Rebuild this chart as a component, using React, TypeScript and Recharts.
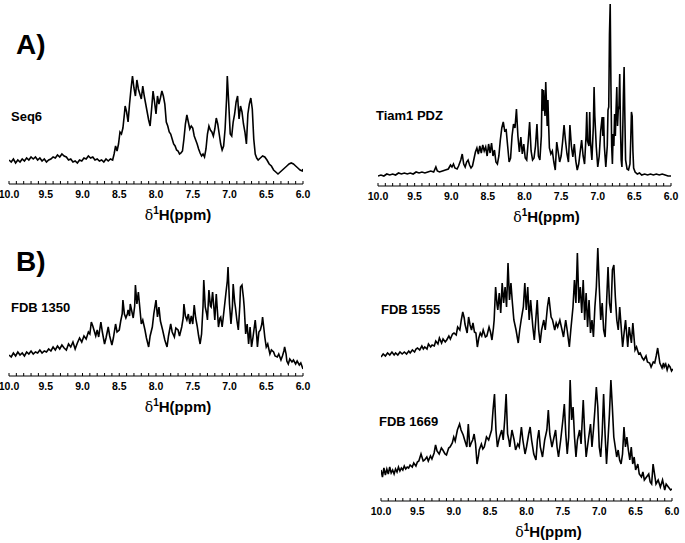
import React from 'react';
import { LineChart, Line, XAxis, YAxis, Label } from 'recharts';

const majorTicks = [10.0, 9.5, 9.0, 8.5, 8.0, 7.5, 7.0, 6.5, 6.0];
const minorTicks = [10.0, 9.9, 9.8, 9.7, 9.6, 9.5, 9.4, 9.3, 9.2, 9.1, 9.0, 8.9, 8.8, 8.7, 8.6, 8.5, 8.4, 8.3, 8.2, 8.1, 8.0, 7.9, 7.8, 7.7, 7.6, 7.5, 7.4, 7.3, 7.2, 7.1, 7.0, 6.9, 6.8, 6.7, 6.6, 6.5, 6.4, 6.3, 6.2, 6.1, 6.0];

const seq6: [number, number][] = [[10.0,24],[9.97,22],[9.94,25],[9.91,21],[9.88,24],[9.85,22],[9.82,25],[9.79,23],[9.76,26],[9.73,24],[9.70,27],[9.67,25],[9.64,27],[9.61,24],[9.58,26],[9.55,23],[9.52,25],[9.49,22],[9.46,24],[9.43,25],[9.40,27],[9.37,26],[9.34,29],[9.31,27],[9.28,30],[9.25,28],[9.22,27],[9.19,24],[9.16,25],[9.13,22],[9.10,23],[9.07,21],[9.04,24],[9.01,23],[8.98,26],[8.95,25],[8.92,28],[8.89,26],[8.86,27],[8.83,24],[8.80,25],[8.77,23],[8.74,24],[8.71,22],[8.68,25],[8.65,23],[8.62,25],[8.59,24],[8.57,30],[8.55,38],[8.53,33],[8.51,40],[8.49,52],[8.47,50],[8.45,56],[8.43,70],[8.42,78],[8.40,72],[8.38,62],[8.36,80],[8.34,95],[8.32,108],[8.30,96],[8.28,88],[8.26,104],[8.24,95],[8.22,90],[8.20,85],[8.18,98],[8.16,88],[8.14,80],[8.12,72],[8.10,64],[8.08,58],[8.06,75],[8.04,93],[8.02,82],[8.00,70],[7.98,88],[7.96,80],[7.94,86],[7.92,93],[7.90,88],[7.88,80],[7.86,62],[7.84,58],[7.82,52],[7.80,50],[7.78,45],[7.76,40],[7.74,38],[7.72,34],[7.70,33],[7.68,30],[7.66,31],[7.64,33],[7.62,45],[7.60,60],[7.58,69],[7.56,62],[7.54,55],[7.52,58],[7.50,56],[7.48,48],[7.46,44],[7.44,40],[7.42,35],[7.40,31],[7.38,28],[7.36,30],[7.34,27],[7.32,35],[7.30,50],[7.28,58],[7.26,54],[7.24,52],[7.22,48],[7.20,55],[7.18,66],[7.16,60],[7.14,50],[7.12,40],[7.10,34],[7.08,38],[7.06,55],[7.04,85],[7.03,108],[7.01,80],[6.99,50],[6.97,48],[6.95,62],[6.93,70],[6.91,82],[6.89,88],[6.87,65],[6.85,78],[6.83,72],[6.81,60],[6.79,52],[6.77,40],[6.75,70],[6.73,80],[6.71,86],[6.69,75],[6.67,45],[6.65,30],[6.63,26],[6.61,24],[6.58,26],[6.55,28],[6.52,27],[6.49,24],[6.46,20],[6.43,18],[6.40,14],[6.37,12],[6.34,10],[6.31,12],[6.28,14],[6.25,16],[6.22,18],[6.19,20],[6.16,21],[6.13,20],[6.10,18],[6.07,16],[6.04,14],[6.01,13],[6.0,15]];

const tiam1: [number, number][] = [[10.0,10],[9.96,11],[9.92,10],[9.88,12],[9.84,11],[9.80,12],[9.76,11],[9.72,13],[9.68,12],[9.64,13],[9.60,12],[9.56,13],[9.52,12],[9.48,14],[9.44,13],[9.40,14],[9.36,13],[9.32,14],[9.28,15],[9.24,14],[9.21,19],[9.19,15],[9.16,14],[9.12,15],[9.08,16],[9.04,17],[9.01,21],[8.99,19],[8.97,22],[8.95,18],[8.92,17],[8.90,20],[8.87,26],[8.85,32],[8.83,22],[8.81,19],[8.79,24],[8.77,26],[8.75,21],[8.73,18],[8.71,20],[8.69,27],[8.67,34],[8.65,38],[8.63,32],[8.61,40],[8.59,33],[8.57,41],[8.55,35],[8.53,39],[8.51,30],[8.49,42],[8.47,33],[8.45,43],[8.43,30],[8.41,36],[8.39,24],[8.37,22],[8.35,30],[8.33,46],[8.31,58],[8.29,64],[8.27,55],[8.25,56],[8.23,40],[8.21,24],[8.19,28],[8.17,50],[8.15,62],[8.13,58],[8.11,77],[8.09,50],[8.07,34],[8.05,49],[8.03,32],[8.01,42],[7.99,28],[7.97,26],[7.95,44],[7.93,64],[7.91,35],[7.89,26],[7.87,28],[7.85,40],[7.83,62],[7.81,30],[7.79,26],[7.77,50],[7.76,97],[7.75,75],[7.74,96],[7.73,80],[7.72,70],[7.71,104],[7.70,82],[7.69,60],[7.68,86],[7.67,60],[7.66,38],[7.64,32],[7.62,35],[7.60,24],[7.58,16],[7.56,44],[7.54,34],[7.52,24],[7.50,30],[7.48,44],[7.46,61],[7.44,45],[7.42,32],[7.40,24],[7.38,61],[7.36,40],[7.34,29],[7.32,42],[7.30,25],[7.28,16],[7.26,22],[7.24,34],[7.22,46],[7.20,30],[7.18,22],[7.16,50],[7.15,74],[7.14,45],[7.12,40],[7.11,74],[7.10,45],[7.08,26],[7.06,60],[7.05,99],[7.04,70],[7.02,39],[7.00,19],[6.98,30],[6.96,55],[6.94,69],[6.93,50],[6.92,69],[6.91,40],[6.89,19],[6.87,40],[6.86,76],[6.85,79],[6.84,152],[6.83,182],[6.82,100],[6.81,40],[6.80,22],[6.79,52],[6.78,40],[6.77,72],[6.76,50],[6.75,76],[6.74,99],[6.73,60],[6.72,76],[6.71,80],[6.70,112],[6.69,60],[6.68,26],[6.67,19],[6.66,50],[6.65,90],[6.64,119],[6.63,70],[6.62,26],[6.60,17],[6.58,16],[6.56,22],[6.55,45],[6.54,74],[6.53,70],[6.52,35],[6.51,18],[6.49,14],[6.46,12],[6.43,13],[6.40,11],[6.36,12],[6.32,11],[6.28,12],[6.24,11],[6.20,12],[6.16,11],[6.12,12],[6.08,11],[6.04,10],[6.0,10]];

const fdb1350: [number, number][] = [[10.0,21],[9.97,19],[9.94,23],[9.91,20],[9.88,24],[9.85,21],[9.82,23],[9.79,20],[9.76,24],[9.73,22],[9.70,25],[9.67,22],[9.64,24],[9.61,23],[9.58,26],[9.55,23],[9.52,25],[9.49,24],[9.46,27],[9.43,25],[9.40,29],[9.37,26],[9.34,30],[9.31,27],[9.28,31],[9.25,28],[9.22,26],[9.19,32],[9.16,29],[9.13,34],[9.10,27],[9.07,33],[9.04,38],[9.01,34],[8.98,40],[8.95,37],[8.92,44],[8.90,42],[8.88,54],[8.86,50],[8.84,45],[8.82,40],[8.80,46],[8.78,39],[8.75,54],[8.73,44],[8.70,32],[8.68,38],[8.65,49],[8.63,40],[8.60,31],[8.58,38],[8.55,52],[8.53,44],[8.50,46],[8.48,55],[8.46,62],[8.45,76],[8.43,62],[8.41,58],[8.39,62],[8.38,66],[8.36,60],[8.35,72],[8.33,65],[8.31,58],[8.29,70],[8.28,91],[8.26,72],[8.24,84],[8.22,68],[8.20,52],[8.18,56],[8.15,46],[8.13,38],[8.10,29],[8.08,40],[8.05,49],[8.03,62],[8.00,76],[7.98,59],[7.96,69],[7.94,55],[7.91,46],[7.88,36],[7.85,29],[7.83,40],[7.80,52],[7.78,44],[7.75,39],[7.73,48],[7.70,46],[7.68,40],[7.65,49],[7.63,58],[7.62,72],[7.60,60],[7.58,56],[7.56,62],[7.54,52],[7.52,60],[7.50,52],[7.48,71],[7.46,58],[7.44,50],[7.42,40],[7.40,32],[7.38,42],[7.36,70],[7.35,96],[7.33,69],[7.31,62],[7.30,56],[7.28,86],[7.26,70],[7.25,69],[7.23,84],[7.21,66],[7.20,56],[7.18,82],[7.16,60],[7.15,49],[7.13,58],[7.12,59],[7.10,49],[7.08,62],[7.05,82],[7.03,95],[7.02,109],[7.00,72],[6.98,52],[6.96,70],[6.95,92],[6.93,74],[6.92,69],[6.90,56],[6.88,46],[6.86,70],[6.85,89],[6.83,91],[6.81,78],[6.80,69],[6.78,42],[6.76,52],[6.74,32],[6.72,49],[6.70,29],[6.68,39],[6.65,56],[6.63,40],[6.62,29],[6.60,44],[6.58,46],[6.56,52],[6.55,59],[6.53,46],[6.52,39],[6.50,29],[6.48,32],[6.45,22],[6.43,26],[6.40,24],[6.38,20],[6.35,19],[6.33,22],[6.30,16],[6.28,20],[6.26,25],[6.25,29],[6.23,22],[6.22,15],[6.20,12],[6.18,17],[6.15,14],[6.13,16],[6.10,12],[6.08,15],[6.05,11],[6.03,13],[6.00,7]];

const fdb1555: [number, number][] = [[10.0,23],[9.97,26],[9.94,24],[9.91,27],[9.88,25],[9.85,28],[9.82,25],[9.80,27],[9.77,25],[9.74,28],[9.71,26],[9.68,28],[9.65,26],[9.62,29],[9.60,27],[9.57,30],[9.54,28],[9.52,31],[9.50,32],[9.47,30],[9.44,34],[9.42,31],[9.40,33],[9.37,31],[9.35,36],[9.32,33],[9.30,35],[9.27,34],[9.25,39],[9.22,36],[9.20,42],[9.17,37],[9.15,41],[9.12,38],[9.10,40],[9.07,44],[9.05,41],[9.02,46],[9.00,47],[8.97,45],[8.95,53],[8.92,50],[8.90,60],[8.88,68],[8.86,62],[8.85,56],[8.82,47],[8.80,63],[8.78,55],[8.76,50],[8.74,57],[8.72,48],[8.70,47],[8.68,33],[8.66,42],[8.64,47],[8.62,44],[8.60,50],[8.57,43],[8.55,44],[8.52,53],[8.50,48],[8.48,40],[8.46,52],[8.45,60],[8.43,93],[8.41,75],[8.40,70],[8.38,87],[8.36,67],[8.34,97],[8.32,77],[8.30,93],[8.28,73],[8.26,117],[8.24,80],[8.22,97],[8.20,77],[8.18,60],[8.15,50],[8.12,37],[8.10,50],[8.08,60],[8.05,73],[8.03,97],[8.01,70],[7.99,93],[7.97,60],[7.95,80],[7.92,53],[7.90,40],[7.88,60],[7.86,80],[7.84,50],[7.82,37],[7.80,50],[7.77,60],[7.75,50],[7.72,73],[7.70,83],[7.67,63],[7.65,60],[7.62,50],[7.60,57],[7.58,53],[7.55,60],[7.52,50],[7.50,43],[7.47,60],[7.45,50],[7.42,33],[7.40,50],[7.37,73],[7.35,100],[7.33,77],[7.31,127],[7.29,77],[7.27,93],[7.25,67],[7.23,100],[7.21,60],[7.19,87],[7.17,53],[7.15,80],[7.13,47],[7.11,60],[7.09,43],[7.07,73],[7.05,93],[7.03,132],[7.01,93],[6.99,60],[6.97,77],[6.95,50],[6.93,43],[6.91,77],[6.89,113],[6.87,77],[6.85,67],[6.83,110],[6.81,115],[6.79,83],[6.77,60],[6.75,50],[6.73,73],[6.71,53],[6.69,33],[6.67,47],[6.65,60],[6.62,33],[6.60,53],[6.57,37],[6.55,57],[6.52,30],[6.50,33],[6.47,26],[6.45,27],[6.42,22],[6.40,20],[6.37,24],[6.35,18],[6.32,17],[6.30,13],[6.27,18],[6.25,17],[6.23,24],[6.21,32],[6.19,22],[6.18,17],[6.15,12],[6.13,17],[6.12,13],[6.10,16],[6.08,10],[6.06,15],[6.04,13],[6.02,9],[6.00,11]];

const fdb1669: [number, number][] = [[10.0,31],[9.98,24],[9.96,33],[9.94,26],[9.92,32],[9.90,27],[9.88,34],[9.86,28],[9.84,31],[9.82,27],[9.80,32],[9.78,29],[9.76,34],[9.74,30],[9.72,33],[9.70,31],[9.68,35],[9.66,32],[9.64,34],[9.62,33],[9.60,36],[9.57,34],[9.55,38],[9.52,35],[9.50,39],[9.48,40],[9.45,47],[9.42,40],[9.40,41],[9.37,44],[9.35,40],[9.32,45],[9.30,42],[9.27,48],[9.25,56],[9.23,50],[9.20,47],[9.17,53],[9.15,51],[9.12,47],[9.10,46],[9.07,53],[9.05,54],[9.02,58],[9.00,64],[8.98,60],[8.95,71],[8.93,75],[8.92,77],[8.90,71],[8.87,66],[8.85,61],[8.82,54],[8.80,77],[8.78,54],[8.76,58],[8.74,61],[8.72,67],[8.70,57],[8.68,37],[8.66,45],[8.65,51],[8.62,57],[8.60,52],[8.58,54],[8.55,64],[8.52,61],[8.50,66],[8.48,71],[8.46,91],[8.44,107],[8.42,71],[8.40,54],[8.38,61],[8.37,64],[8.34,71],[8.32,61],[8.30,81],[8.28,107],[8.26,67],[8.24,60],[8.23,54],[8.20,71],[8.17,61],[8.15,51],[8.12,57],[8.10,54],[8.07,74],[8.05,61],[8.02,47],[8.00,54],[7.97,67],[7.95,74],[7.93,61],[7.90,47],[7.87,41],[7.85,61],[7.83,71],[7.81,54],[7.78,44],[7.75,61],[7.72,71],[7.70,91],[7.68,67],[7.65,54],[7.63,61],[7.60,71],[7.58,54],[7.56,44],[7.53,61],[7.50,81],[7.48,97],[7.46,67],[7.44,47],[7.42,64],[7.40,121],[7.38,81],[7.36,94],[7.34,64],[7.32,44],[7.30,61],[7.27,71],[7.25,57],[7.22,101],[7.20,67],[7.18,44],[7.15,61],[7.12,77],[7.10,54],[7.08,71],[7.06,91],[7.04,114],[7.02,94],[7.00,54],[6.98,44],[6.96,67],[6.94,107],[6.92,67],[6.90,37],[6.88,61],[6.86,87],[6.84,121],[6.82,94],[6.80,64],[6.78,54],[6.76,44],[6.74,51],[6.72,41],[6.70,37],[6.68,47],[6.66,74],[6.64,54],[6.62,64],[6.60,51],[6.58,41],[6.56,54],[6.54,37],[6.52,44],[6.50,31],[6.47,37],[6.45,27],[6.42,24],[6.40,29],[6.38,21],[6.35,24],[6.32,27],[6.30,19],[6.28,17],[6.26,37],[6.24,27],[6.22,17],[6.19,21],[6.16,14],[6.13,21],[6.10,11],[6.08,17],[6.05,14],[6.02,11],[6.00,12]];

const FONT = '"Liberation Sans", Arial, Helvetica, sans-serif';
const TICK_FS = 10.5;

const renderTick = (props: any) => {
  const { x, y, payload } = props;
  const v = payload.value;
  const isMajor = majorTicks.some((m) => Math.abs(m - v) < 1e-6);
  const halfW = TICK_FS * 0.98;
  const tx = Math.max(x, halfW + 0.5);
  return (
    <g>
      <line x1={x} x2={x} y1={y} y2={y - 3} stroke="#000" strokeWidth={1} />
      {isMajor && (
        <text x={tx} y={y + 14} textAnchor="middle" fontFamily={FONT} fontWeight="bold" fontSize={TICK_FS} fill="#000">
          {v.toFixed(1)}
        </text>
      )}
    </g>
  );
};

const renderTitle = (props: any) => {
  const vb = props.viewBox || {};
  const cx = vb.x + vb.width / 2 + 22;
  const by = vb.y + 36;
  return (
    <text x={cx} y={by} textAnchor="middle" fontFamily={FONT} fontWeight="bold" fontSize={15} fill="#000">
      <tspan fontFamily='"DejaVu Serif", serif' fontWeight="normal" fontSize={14}>δ</tspan>
      <tspan fontSize={10} dy={-6}>1</tspan>
      <tspan dy={6}>H(ppm)</tspan>
    </text>
  );
};

type SpecProps = {
  data: [number, number][];
  plotLeft: number;
  plotWidth: number;
  axisY: number;
  yMax: number;
  showAxis: boolean;
};

function Spectrum({ data, plotLeft, plotWidth, axisY, yMax, showAxis }: SpecProps) {
  const padX = 24;
  const axisH = showAxis ? 46 : 0;
  const rows = data.map(([ppm, v]) => ({ ppm, v }));
  return (
    <div style={{ position: 'absolute', left: plotLeft - padX, top: axisY - yMax }}>
      <LineChart
        width={plotWidth + 2 * padX}
        height={yMax + axisH}
        data={rows}
        margin={{ top: 0, right: padX, bottom: 0, left: padX }}
      >
        <XAxis
          type="number"
          dataKey="ppm"
          domain={[6, 10]}
          reversed
          ticks={minorTicks}
          interval={0}
          tickLine={false}
          tickSize={0}
          tickMargin={0}
          height={axisH}
          hide={!showAxis}
          axisLine={{ stroke: '#000', strokeWidth: 1 }}
          tick={(p: any) => renderTick({ ...p, x: p.x, absLeft: plotLeft - padX })}
          allowDataOverflow
        >
          <Label content={renderTitle} />
        </XAxis>
        <YAxis type="number" domain={[0, yMax]} hide allowDataOverflow />
        <Line
          type="linear"
          dataKey="v"
          stroke="#000"
          strokeWidth={1.6}
          strokeLinejoin="miter"
          dot={false}
          isAnimationActive={false}
        />
      </LineChart>
    </div>
  );
}

const textStyle = (left: number, centerY: number, size: number): React.CSSProperties => ({
  position: 'absolute',
  left,
  top: centerY - size / 2,
  fontFamily: FONT,
  fontWeight: 'bold',
  fontSize: size,
  lineHeight: `${size}px`,
  color: '#000',
  whiteSpace: 'nowrap',
});

export default function App() {
  return (
    <div style={{ position: 'absolute', left: 0, top: 0, width: 685, height: 543, background: '#fff', overflow: 'hidden' }}>
      <Spectrum data={seq6} plotLeft={9} plotWidth={294} axisY={184} yMax={120} showAxis />
      <Spectrum data={tiam1} plotLeft={378} plotWidth={293} axisY={186} yMax={185} showAxis />
      <Spectrum data={fdb1350} plotLeft={9} plotWidth={294} axisY={376} yMax={120} showAxis />
      <Spectrum data={fdb1555} plotLeft={381} plotWidth={292} axisY={380} yMax={140} showAxis={false} />
      <Spectrum data={fdb1669} plotLeft={381} plotWidth={291} axisY={501} yMax={125} showAxis />
      <div style={textStyle(16, 45, 28)}>A)</div>
      <div style={textStyle(16, 262, 28)}>B)</div>
      <div style={textStyle(11, 116, 13)}>Seq6</div>
      <div style={textStyle(376, 115, 13)}>Tiam1 PDZ</div>
      <div style={textStyle(11, 307, 13)}>FDB 1350</div>
      <div style={textStyle(381, 309, 13)}>FDB 1555</div>
      <div style={textStyle(379, 421, 13)}>FDB 1669</div>
    </div>
  );
}
